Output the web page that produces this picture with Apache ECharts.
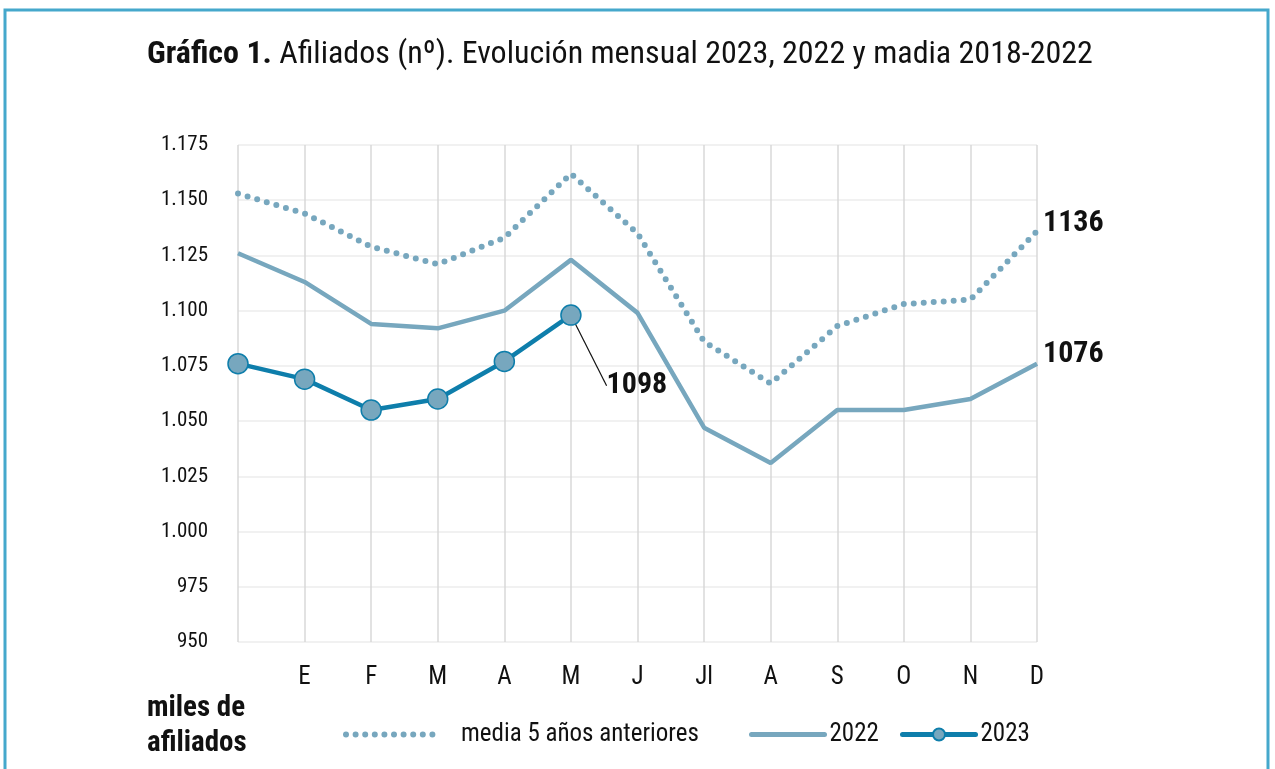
<!DOCTYPE html>
<html><head><meta charset="utf-8">
<script src="https://cdn.jsdelivr.net/npm/echarts@6/dist/echarts.min.js"></script>
<style>html,body{margin:0;padding:0;background:#fff}#c{width:1275px;height:769px}</style>
</head><body><div id="c"></div>
<script>
const categories = ['', 'E', 'F', 'M', 'A', 'M', 'J', 'Jl', 'A', 'S', 'O', 'N', 'D'];
const media5 = [1153, 1144, 1129, 1121, 1133, 1162, 1135, 1086, 1067, 1093, 1103, 1105, 1136];
const y2022 = [1126, 1113, 1094, 1092, 1100, 1123, 1099, 1047, 1031, 1055, 1055, 1060, 1076];
const y2023 = [1076, 1069, 1055, 1060, 1077, 1098];
const yTicks = { min: 950, max: 1175, interval: 25 };

const FONT = '"Liberation Sans Narrow", "Roboto Condensed", "DejaVu Sans Condensed", sans-serif';
const cLight = '#77a7be';
const cDark = '#0e7eab';

function fmtY(v) {
  if (v >= 1000) { const r = v - 1000; return '1.' + String(r).padStart(3, '0'); }
  return String(v);
}

const legendText = { fontFamily: FONT, fontSize: 25, color: '#111' };

const chart = echarts.init(document.getElementById('c'));
chart.setOption({
  animation: false,
  textStyle: { fontFamily: FONT },
  graphic: [{
    type: 'rect', shape: { x: 5, y: 10, width: 1263, height: 820 },
    style: { fill: 'none', stroke: '#45a8cc', lineWidth: 3 }, silent: true
  }],
  title: [{
    text: '{b|Gráfico 1.} Afiliados (nº). Evolución mensual 2023, 2022 y madia 2018-2022',
    left: 142, top: 34,
    textStyle: {
      fontFamily: FONT, fontSize: 32, fontWeight: 'normal', color: '#111',
      rich: { b: { fontFamily: FONT, fontSize: 32, fontWeight: 'bold', color: '#111' } }
    }
  }, {
    text: 'miles de\nafiliados',
    left: 142, top: 686,
    textStyle: { fontFamily: FONT, fontSize: 29, fontWeight: 'bold', color: '#111', lineHeight: 35 }
  }],
  legend: [{
    data: ['media 5 años anteriores'], left: 338, top: 717, itemWidth: 88, itemHeight: 15,
    lineStyle: { width: 6, type: [0, 9.6], cap: 'round' },
    itemStyle: { opacity: 0 },
    textStyle: Object.assign({ padding: [0, 0, 0, 22] }, legendText)
  }, {
    data: ['2022'], left: 744, top: 717, itemWidth: 73, itemHeight: 15,
    lineStyle: { width: 5, cap: 'round' },
    itemStyle: { opacity: 0 },
    textStyle: legendText
  }, {
    data: ['2023'], left: 895, top: 717, itemWidth: 73, itemHeight: 15,
    lineStyle: { width: 5, cap: 'round' },
    textStyle: legendText
  }],
  grid: { left: 238, right: 238, top: 145, bottom: 127, containLabel: false },
  xAxis: {
    type: 'category', data: categories, boundaryGap: false,
    axisLine: { show: false }, axisTick: { show: false },
    axisLabel: { margin: 23, fontFamily: FONT, fontSize: 25, color: '#111' },
    splitLine: { show: true, lineStyle: { color: '#d9d9d9', width: 1.5 } }
  },
  yAxis: {
    type: 'value', min: yTicks.min, max: yTicks.max, interval: yTicks.interval,
    axisLine: { show: false }, axisTick: { show: false },
    axisLabel: { margin: 30, fontFamily: FONT, fontSize: 21, color: '#111', formatter: fmtY },
    splitLine: { lineStyle: { color: '#ededed', width: 1.5 } }
  },
  series: [{
    name: 'media 5 años anteriores', type: 'line', data: media5, symbol: 'none', z: 2,
    lineStyle: { color: cLight, width: 6, type: [0, 10], cap: 'round' },
    itemStyle: { color: cLight },
    label: { show: false },
    endLabel: {
      show: true, formatter: '{c}', fontFamily: FONT, fontSize: 30, fontWeight: 'bold',
      color: '#111', distance: 6, offset: [0, -8]
    }
  }, {
    name: '2022', type: 'line', data: y2022, symbol: 'none', z: 3,
    lineStyle: { color: cLight, width: 4.5 },
    itemStyle: { color: cLight },
    endLabel: {
      show: true, formatter: '{c}', fontFamily: FONT, fontSize: 30, fontWeight: 'bold',
      color: '#111', distance: 6, offset: [0, -9]
    }
  }, {
    name: '2023', type: 'line', data: y2023.map((v, i) => i === y2023.length - 1 ? {
      value: v,
      label: {
        show: true, position: 'bottom', formatter: '{c}', fontFamily: FONT, fontSize: 30,
        fontWeight: 'bold', color: '#111'
      }
    } : v),
    symbol: 'circle', symbolSize: 20, z: 4,
    lineStyle: { color: cDark, width: 4.5 },
    itemStyle: { color: cLight, borderColor: cDark, borderWidth: 1.5 },
    label: { show: false },
    labelLayout: { dx: 66, dy: 40 },
    labelLine: { show: true, lineStyle: { color: '#111', width: 1.2 } }
  }]
});
</script></body></html>
